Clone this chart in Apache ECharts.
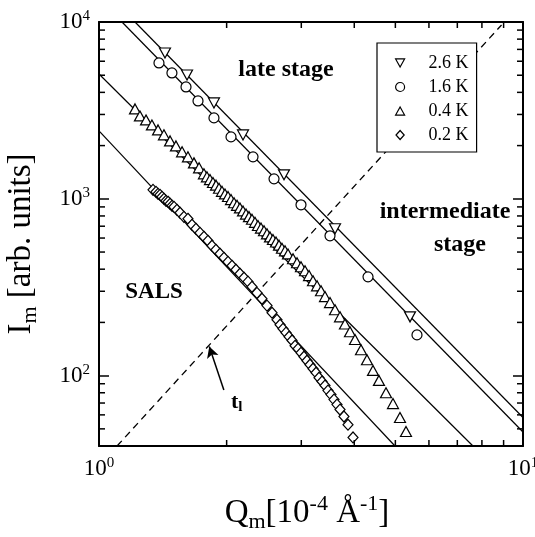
<!DOCTYPE html>
<html>
<head>
<meta charset="utf-8">
<script src="https://cdn.jsdelivr.net/npm/echarts@6/dist/echarts.min.js"></script>
<style>
  html, body { margin: 0; padding: 0; background: #fff; }
  #chart { width: 535px; height: 537px; }
</style>
</head>
<body>
<div id="chart"></div>
<script>
// Peak intensity I_m versus peak position Q_m, [Q_m (10^-4 A^-1), I_m (arb. units)]
const data26 = [
  [1.431, 6680], [1.613, 5018], [1.867, 3486], [2.186, 2299], [2.731, 1367],
  [3.603, 677], [5.414, 215]
];
const data16 = [
  [1.385, 5867], [1.486, 5151], [1.604, 4293], [1.712, 3578], [1.867, 2868],
  [2.048, 2240], [2.308, 1727], [2.587, 1297], [2.995, 925], [3.506, 618],
  [4.310, 362], [5.623, 170]
];
const data04 = [
  [1.216, 3225], [1.249, 2943], [1.291, 2794], [1.333, 2618], [1.378, 2454],
  [1.423, 2300], [1.471, 2126], [1.519, 1992], [1.570, 1843], [1.621, 1727],
  [1.675, 1597], [1.722, 1497], [1.768, 1384],
  [1.797, 1331], [1.827, 1285], [1.857, 1236], [1.888, 1195], [1.919, 1148],
  [1.950, 1102], [1.982, 1066], [2.015, 1030], [2.048, 990], [2.082, 950],
  [2.116, 919], [2.150, 888], [2.186, 854], [2.222, 820], [2.258, 793],
  [2.295, 766], [2.333, 736], [2.371, 706], [2.410, 683], [2.450, 660],
  [2.490, 634], [2.531, 609], [2.572, 589], [2.615, 570], [2.658, 547],
  [2.701, 525], [2.746, 508], [2.791, 488],
  [2.868, 458], [2.931, 435], [2.995, 413], [3.061, 392], [3.129, 368],
  [3.197, 344], [3.268, 322], [3.339, 302], [3.412, 280], [3.506, 259],
  [3.603, 236], [3.702, 215], [3.803, 196], [3.908, 177], [4.016, 160],
  [4.149, 140], [4.286, 123], [4.428, 107], [4.574, 94], [4.752, 80],
  [4.936, 69.5], [5.127, 58], [5.297, 48.3]
];
const data02 = [
  [1.341, 1124], [1.363, 1095], [1.378, 1067], [1.393, 1053], [1.408, 1026],
  [1.423, 1000], [1.439, 974], [1.455, 962], [1.471, 937], [1.487, 913],
  [1.503, 901], [1.527, 867], [1.553, 834],
  [1.586, 791], [1.621, 771], [1.657, 713], [1.693, 677], [1.731, 642],
  [1.768, 610], [1.807, 579], [1.847, 543], [1.887, 515], [1.929, 489],
  [1.971, 464], [2.015, 440], [2.059, 418], [2.104, 397], [2.150, 377],
  [2.198, 358], [2.246, 340], [2.295, 318], [2.358, 294], [2.423, 272],
  [2.490, 249], [2.559, 227], [2.629, 207],
  [2.673, 194], [2.716, 184], [2.761, 175], [2.807, 166], [2.853, 158],
  [2.900, 147.5], [2.947, 141.8], [2.995, 134.6], [3.044, 127.9], [3.094, 121.4],
  [3.145, 115.3], [3.197, 109.4], [3.250, 103.9], [3.303, 97.3], [3.357, 92.6],
  [3.412, 87.9], [3.468, 82.3], [3.525, 78.1], [3.583, 73.2], [3.642, 68.6],
  [3.702, 64.3], [3.782, 58.7], [3.866, 52.8], [3.973, 44.7]
];

// power-law fits for each temperature
const fit26 = [[1.216, 10000], [10, 58]];
const fit16 = [[1.133, 10000], [10, 48]];
const fit04 = [[1, 5080], [7.62, 40]];
const fit02 = [[1, 2420], [4.99, 40]];
// boundary t_l between SALS and the intermediate stage
const boundary = [[1.103, 40], [8.9, 9620]];
const arrowTail = [1.97, 83];
const arrowHead = [1.82, 146];

const seriesNames = ['2.6 K', '1.6 K', '0.4 K', '0.2 K'];
const xRange = [1, 10];
const yRange = [40, 10000];
const xMinorTicks = [2, 3, 4, 5, 6, 7, 8, 9];
const yMinorTicks = [50, 60, 70, 80, 90, 200, 300, 400, 500, 600, 700, 800, 900,
                     2000, 3000, 4000, 5000, 6000, 7000, 8000, 9000];

const FONT = '"Liberation Serif", "DejaVu Serif", serif';
const downTriangle = 'path://M0,0L10,0L5,9Z';
const upTriangle = 'path://M5,0L10,9L0,9Z';
const diamond = 'path://M5,0L10,5.5L5,11L0,5.5Z';

const chart = echarts.init(document.getElementById('chart'), null, { renderer: 'canvas' });

function decadeLabel(v) {
  const e = Math.round(Math.log10(v));
  if (Math.abs(v - Math.pow(10, e)) > 1e-6 * v) return '';
  return '{b|10}{s|' + e + '}';
}
const labelRich = {
  b: { fontFamily: FONT, fontSize: 23, color: '#000', lineHeight: 26 },
  s: { fontFamily: FONT, fontSize: 15, color: '#000', verticalAlign: 'top', lineHeight: 26 }
};
const titleRich = {
  i: { fontFamily: FONT, fontSize: 33, color: '#000', lineHeight: 40 },
  sub: { fontFamily: FONT, fontSize: 22, color: '#000', verticalAlign: 'bottom', lineHeight: 40 },
  sup: { fontFamily: FONT, fontSize: 22, color: '#000', verticalAlign: 'top', lineHeight: 40 }
};

function frameAxis(extra) {
  return Object.assign({
    type: 'log',
    logBase: 10,
    axisLine: { show: true, lineStyle: { color: '#000', width: 2 } },
    axisTick: { show: true, inside: true, length: 10, lineStyle: { color: '#000', width: 1.5 } },
    splitLine: { show: false },
    minorTick: { show: false },
    minorSplitLine: { show: false }
  }, extra);
}

const markerStyle = { color: '#fff', borderColor: '#000', borderWidth: 1.2, opacity: 1 };
const fitStyle = { color: '#000', width: 1.2, type: 'solid' };

function fitLine(name, d) {
  return {
    name: name, type: 'line', data: d, symbol: 'none', silent: true,
    lineStyle: fitStyle, z: 1, animation: false
  };
}
function scatter(name, d, symbol, size) {
  return {
    name: name, type: 'scatter', data: d, symbol: symbol, symbolSize: size,
    itemStyle: markerStyle, z: 3, animation: false, silent: true
  };
}

const option = {
  animation: false,
  backgroundColor: '#fff',
  grid: { left: 99, right: 12, top: 22, bottom: 91, containLabel: false, outerBoundsMode: 'none' },
  xAxis: [
    frameAxis({
      min: xRange[0], max: xRange[1], position: 'bottom',
      axisLabel: { show: true, margin: 10, formatter: decadeLabel, rich: labelRich },
      name: '{i|Q}{sub|m}{i|[10}{sup|-4}{i| Å}{sup|-1}{i|]}',
      nameLocation: 'middle', nameGap: 47,
      nameTextStyle: { rich: titleRich, padding: [0, 8, 0, 0] }
    }),
    frameAxis({ min: xRange[0], max: xRange[1], position: 'top', axisLabel: { show: false } })
  ],
  yAxis: [
    frameAxis({
      min: yRange[0], max: yRange[1], position: 'left',
      axisLabel: { show: true, margin: 9, formatter: decadeLabel, rich: labelRich },
      name: '{i|I}{sub|m}{i| [arb. units]}',
      nameLocation: 'middle', nameRotate: 90, nameGap: 58,
      nameTextStyle: { rich: titleRich, padding: [0, 20, 0, 0] }
    }),
    frameAxis({ min: yRange[0], max: yRange[1], position: 'right', axisLabel: { show: false } })
  ],
  legend: {
    data: [
      { name: seriesNames[0], icon: downTriangle },
      { name: seriesNames[1], icon: 'circle' },
      { name: seriesNames[2], icon: upTriangle },
      { name: seriesNames[3], icon: diamond }
    ],
    orient: 'vertical',
    left: 377, top: 43,
    padding: [11, 8, 8, 18],
    itemWidth: 9, itemHeight: 9, itemGap: 6,
    symbolKeepAspect: true,
    backgroundColor: '#fff', borderColor: '#000', borderWidth: 1.2, borderRadius: 0,
    itemStyle: { color: '#fff', borderColor: '#000', borderWidth: 1.2 },
    formatter: name => '{sp|}{n|' + name + '}',
    textStyle: {
      fontFamily: FONT, fontSize: 18, color: '#000',
      rich: {
        sp: { width: 19 },
        n: { fontFamily: FONT, fontSize: 18, color: '#000' }
      }
    },
    selectedMode: false,
    z: 10
  },
  series: [
    {
      name: 't_l', type: 'line', data: boundary, symbol: 'none', silent: true, z: 1,
      lineStyle: { color: '#000', width: 1.3, type: [7, 5] },
      markLine: {
        silent: true, animation: false,
        symbol: ['none', 'arrow'], symbolSize: [9, 11],
        label: { show: false },
        lineStyle: { color: '#000', width: 1.5, type: 'solid' },
        data: [[{ coord: arrowTail }, { coord: arrowHead }]]
      }
    },
    fitLine('fit 2.6 K', fit26),
    fitLine('fit 1.6 K', fit16),
    fitLine('fit 0.4 K', fit04),
    fitLine('fit 0.2 K', fit02),
    scatter(seriesNames[0], data26, downTriangle, [11, 10]),
    scatter(seriesNames[1], data16, 'circle', 10),
    scatter(seriesNames[2], data04, upTriangle, [11, 10]),
    scatter(seriesNames[3], data02, diamond, [10, 11])
  ]
};

chart.setOption(option);

// text annotations
const annotations = [
  { type: 'text', x: 286, y: 70, z: 20, style: { text: 'late stage', font: 'bold 24px ' + FONT, fill: '#000', align: 'center', verticalAlign: 'middle' } },
  { type: 'text', x: 445, y: 212, z: 20, style: { text: 'intermediate', font: 'bold 24px ' + FONT, fill: '#000', align: 'center', verticalAlign: 'middle' } },
  { type: 'text', x: 460, y: 245, z: 20, style: { text: 'stage', font: 'bold 24px ' + FONT, fill: '#000', align: 'center', verticalAlign: 'middle' } },
  { type: 'text', x: 154, y: 292, z: 20, style: { text: 'SALS', font: 'bold 23px ' + FONT, fill: '#000', align: 'center', verticalAlign: 'middle' } },
  { type: 'text', x: 231, y: 402, z: 20, style: {
      text: '{t|t}{s|l}', align: 'left', verticalAlign: 'middle',
      rich: {
        t: { font: 'bold 22px ' + FONT, fill: '#000', lineHeight: 26 },
        s: { font: 'bold 15px ' + FONT, fill: '#000', verticalAlign: 'bottom', lineHeight: 26 }
      }
    } }
];

// minor log ticks on all four sides, placed through the axis scales
const xL = chart.convertToPixel({ xAxisIndex: 0 }, xRange[0]);
const xR = chart.convertToPixel({ xAxisIndex: 0 }, xRange[1]);
const yB = chart.convertToPixel({ yAxisIndex: 0 }, yRange[0]);
const yT = chart.convertToPixel({ yAxisIndex: 0 }, yRange[1]);
const MINOR = 6;
const tickStyle = { stroke: '#000', lineWidth: 1.5 };
const ticks = [];
xMinorTicks.forEach(v => {
  const px = chart.convertToPixel({ xAxisIndex: 0 }, v);
  ticks.push({ type: 'line', z: 15, silent: true, shape: { x1: px, y1: yB, x2: px, y2: yB - MINOR }, style: tickStyle });
  ticks.push({ type: 'line', z: 15, silent: true, shape: { x1: px, y1: yT, x2: px, y2: yT + MINOR }, style: tickStyle });
});
yMinorTicks.forEach(v => {
  const py = chart.convertToPixel({ yAxisIndex: 0 }, v);
  ticks.push({ type: 'line', z: 15, silent: true, shape: { x1: xL, y1: py, x2: xL + MINOR, y2: py }, style: tickStyle });
  ticks.push({ type: 'line', z: 15, silent: true, shape: { x1: xR, y1: py, x2: xR - MINOR, y2: py }, style: tickStyle });
});

chart.setOption({ graphic: annotations.concat(ticks) });
</script>
</body>
</html>
